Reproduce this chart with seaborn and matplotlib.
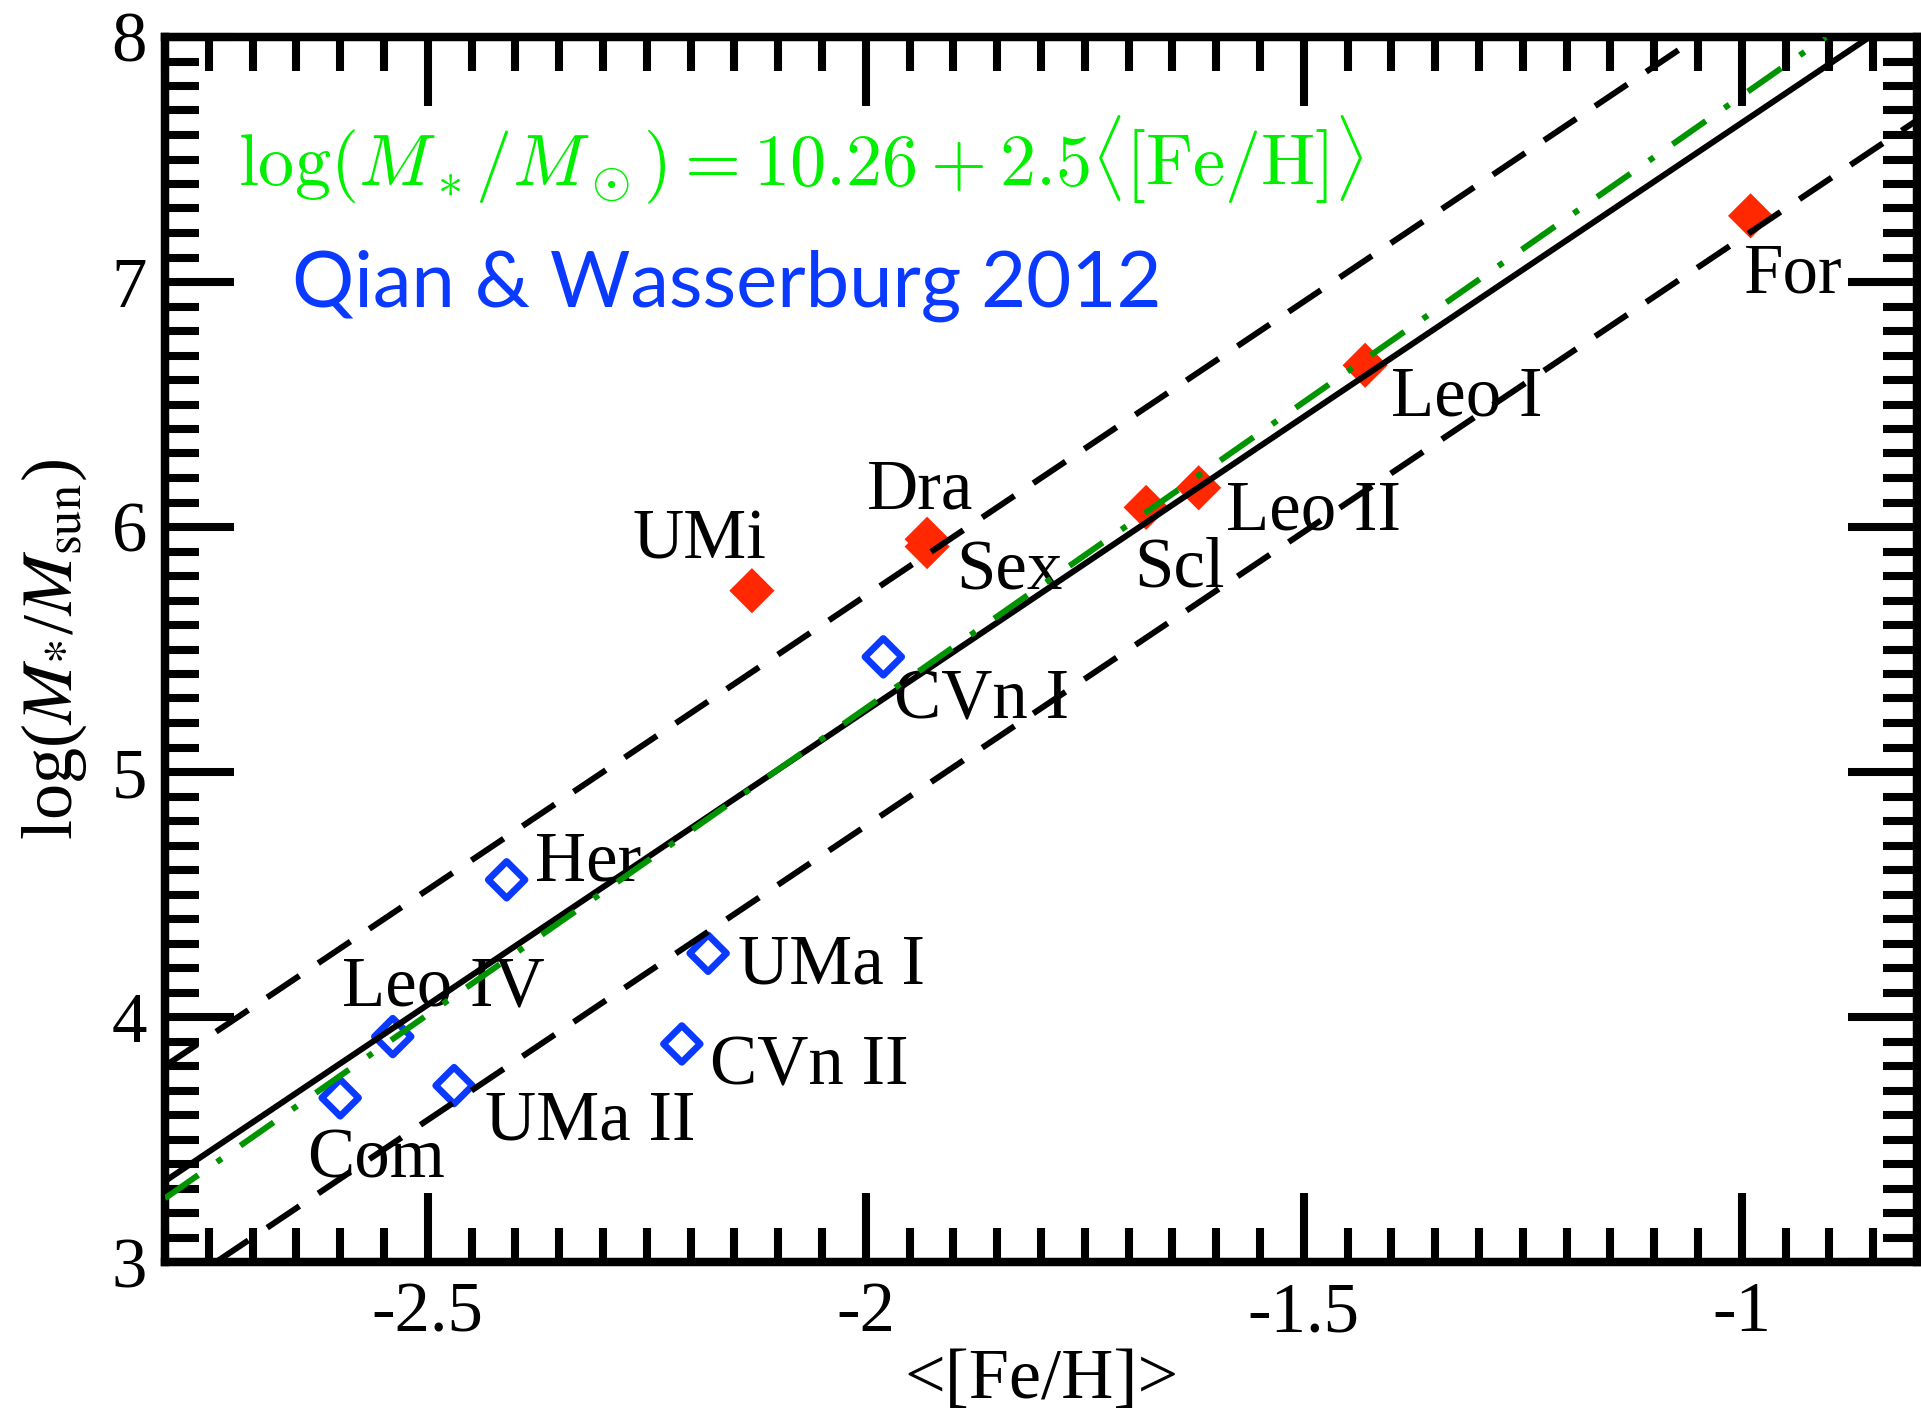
import matplotlib

matplotlib.use("Agg")
import matplotlib.pyplot as plt
import pandas as pd
import seaborn as sns
from matplotlib.ticker import MultipleLocator, FormatStrFormatter

# classical dwarf spheroidals (filled red diamonds)
dsph_names = ["UMi", "Dra", "Sex", "Scl", "Leo II", "Leo I", "For"]
dsph_feh = [-2.13, -1.93, -1.93, -1.68, -1.62, -1.43, -0.99]
dsph_logm = [5.74, 5.95, 5.92, 6.08, 6.16, 6.66, 7.27]

# ultra-faint dwarfs (open blue diamonds)
ufd_names = ["CVn I", "Her", "UMa I", "Leo IV", "CVn II", "UMa II", "Com"]
ufd_feh = [-1.98, -2.41, -2.18, -2.54, -2.21, -2.47, -2.60]
ufd_logm = [5.47, 4.56, 4.26, 3.92, 3.89, 3.72, 3.67]

# label offsets from each point, in pixels
dsph_offsets = [(-119, 32), (-60, 31), (29, -43), (-12, -79), (27, -42), (26, -50), (-7, -77)]
ufd_offsets = [(11, -62), (28, -1), (30, -30), (-51, 31), (28, -41), (31, -54), (-33, -80)]

# relations
fit_intercept, fit_slope, fit_band = 10.05, 2.4, 0.47
qw_intercept, qw_slope = 10.26, 2.5

RED = "#ff2800"
BLUE = "#0a3aff"
GREEN_LINE = "#009400"
GREEN_TEXT = "#00f000"

sns.set_style("ticks")
plt.rcParams["font.family"] = ["Liberation Serif", "DejaVu Serif"]
plt.rcParams["mathtext.fontset"] = "stix"
plt.rcParams["axes.unicode_minus"] = False
plt.rcParams["text.color"] = "black"
plt.rcParams["axes.labelcolor"] = "black"
plt.rcParams["xtick.color"] = "black"
plt.rcParams["ytick.color"] = "black"

dsph = pd.DataFrame({"feh": dsph_feh, "logm": dsph_logm, "name": dsph_names})
ufd = pd.DataFrame({"feh": ufd_feh, "logm": ufd_logm, "name": ufd_names})

W, H = 1921, 1414
fig = plt.figure(figsize=(W / 100, H / 100), dpi=100)
ax = fig.add_axes([165 / W, 1 - 1262 / H, (1917 - 165) / W, (1262 - 37) / H])

sns.scatterplot(data=dsph, x="feh", y="logm", marker="D", s=23 ** 2,
                color=RED, edgecolor="none", linewidth=0, ax=ax, zorder=1)
sns.scatterplot(data=ufd, x="feh", y="logm", marker="D", s=18.7 ** 2,
                facecolors="none", edgecolor=BLUE, linewidth=4.9, ax=ax, zorder=1)

for df, offsets in [(dsph, dsph_offsets), (ufd, ufd_offsets)]:
    for (_, row), off in zip(df.iterrows(), offsets):
        ax.annotate(row["name"], xy=(row["feh"], row["logm"]), xytext=off,
                    textcoords="offset pixels", ha="left", va="baseline",
                    fontsize=51, color="black", zorder=2)

lw = 4.3
ax.axline((0, fit_intercept), slope=fit_slope, color="black", lw=lw, zorder=3)
for sign in (1, -1):
    ax.axline((0, fit_intercept + sign * fit_band), slope=fit_slope, color="black",
              lw=lw, dashes=(6.5, 3.8), zorder=3)
ax.axline((0, qw_intercept), slope=qw_slope, color=GREEN_LINE, lw=lw,
          dashes=(6.8, 3.8, 1.0, 3.8), zorder=3)

ax.set_xlim(-2.8, -0.8)
ax.set_ylim(3, 8)
ax.xaxis.set_major_locator(MultipleLocator(0.5))
ax.xaxis.set_minor_locator(MultipleLocator(0.05))
ax.yaxis.set_major_locator(MultipleLocator(1))
ax.yaxis.set_minor_locator(MultipleLocator(0.1))
ax.xaxis.set_major_formatter(FormatStrFormatter("%g"))
ax.yaxis.set_major_formatter(FormatStrFormatter("%g"))

ax.tick_params(which="both", direction="in", top=True, right=True, width=5.8,
               labelsize=51, color="black", labelcolor="black")
ax.tick_params(axis="x", which="major", length=50, pad=14)
ax.tick_params(axis="y", which="major", length=50, pad=13)
ax.tick_params(which="minor", length=24.5)
for spine in ax.spines.values():
    spine.set_visible(True)
    spine.set_linewidth(6.1)
    spine.set_color("black")

ax.set_xlabel("<[Fe/H]>", fontsize=52, labelpad=1, color="black")
ax.set_ylabel(r"log($M_{*}$/$M_{\rm sun}$)", fontsize=52, labelpad=16, color="black")

ax.text((238 - 165) / 1752, (1262 - 185) / 1225,
        r"$\log(M_*/M_\odot) = 10.26 + 2.5\langle[{\rm Fe/H}]\rangle$",
        transform=ax.transAxes, fontsize=52, color=GREEN_TEXT,
        math_fontfamily="cm", ha="left", va="baseline")
ax.text((292 - 165) / 1752, (1262 - 307) / 1225, "Qian & Wasserburg 2012",
        transform=ax.transAxes, fontsize=56, color=BLUE, family="Lato",
        ha="left", va="baseline")

fig.savefig("out.png", dpi=100)
